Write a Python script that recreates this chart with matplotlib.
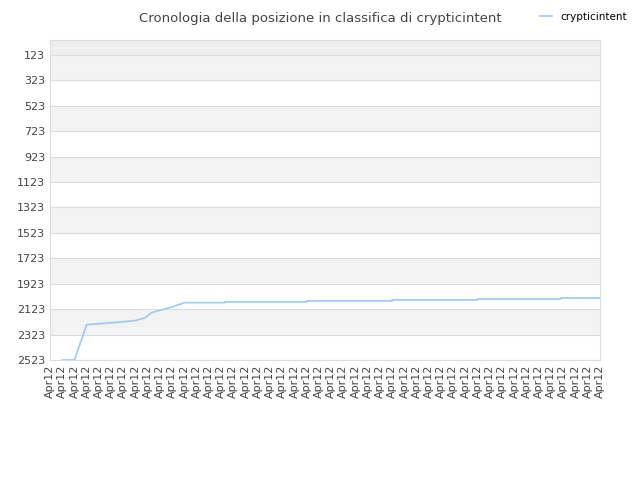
import matplotlib.pyplot as plt
from matplotlib.lines import Line2D

title = "Cronologia della posizione in classifica di crypticintent"
series_name = "crypticintent"
n_ticks = 46
tick_labels = ["Apr12"] * n_ticks
y_ticks = [123, 323, 523, 723, 923, 1123, 1323, 1523, 1723, 1923, 2123, 2323, 2523]

# (x index, rank)
xs = [1, 2, 3, 4, 5, 6, 7, 7.8, 8.3, 10, 11, 14.3, 14.3, 21, 21, 28, 28, 35, 35, 41.8, 41.8, 45]
ranks = [2523, 2523, 2245, 2238, 2230, 2222, 2212, 2190, 2150, 2105, 2072, 2072, 2066, 2066,
         2058, 2058, 2050, 2050, 2043, 2043, 2035, 2035]

fig = plt.figure(figsize=(6.4, 4.8), dpi=100)
ax = fig.add_axes([50 / 640, 120 / 480, 550 / 640, 320 / 480])

ylim_top = 5
ax.set_ylim(2523, ylim_top)
ax.set_xlim(0, n_ticks - 1)

# alternating bands
edges = [ylim_top] + y_ticks
for i in range(len(edges) - 1):
    if i == 0:
        ax.axhspan(edges[i], edges[i + 1], color="#eeeeee", zorder=0, lw=0)
    elif i % 2 == 1:
        ax.axhspan(edges[i], edges[i + 1], color="#f3f3f3", zorder=0, lw=0)
for t in y_ticks:
    ax.axhline(t, color="#dddddd", lw=0.8, zorder=1)

ax.plot(xs, ranks, color="#99c9f5", lw=1.2, zorder=3)

ax.set_yticks(y_ticks)
ax.set_xticks(range(n_ticks))
ax.set_xticklabels(tick_labels, rotation=90, fontsize=8, color="#444444")
ax.tick_params(axis="y", labelsize=8, colors="#444444", length=0)
ax.tick_params(axis="x", length=0, pad=3)
for s in ax.spines.values():
    s.set_color("#dddddd")

fig.text(0.5, 0.975, title, ha="center", va="top", fontsize=9.5, color="#444444")
fig.legend(handles=[Line2D([], [], color="#99c9f5", lw=1.2)], labels=[series_name],
           loc="upper right", bbox_to_anchor=(0.995, 0.995), frameon=False, fontsize=7.5,
           handlelength=1.2)

fig.savefig("out.png", dpi=100)
